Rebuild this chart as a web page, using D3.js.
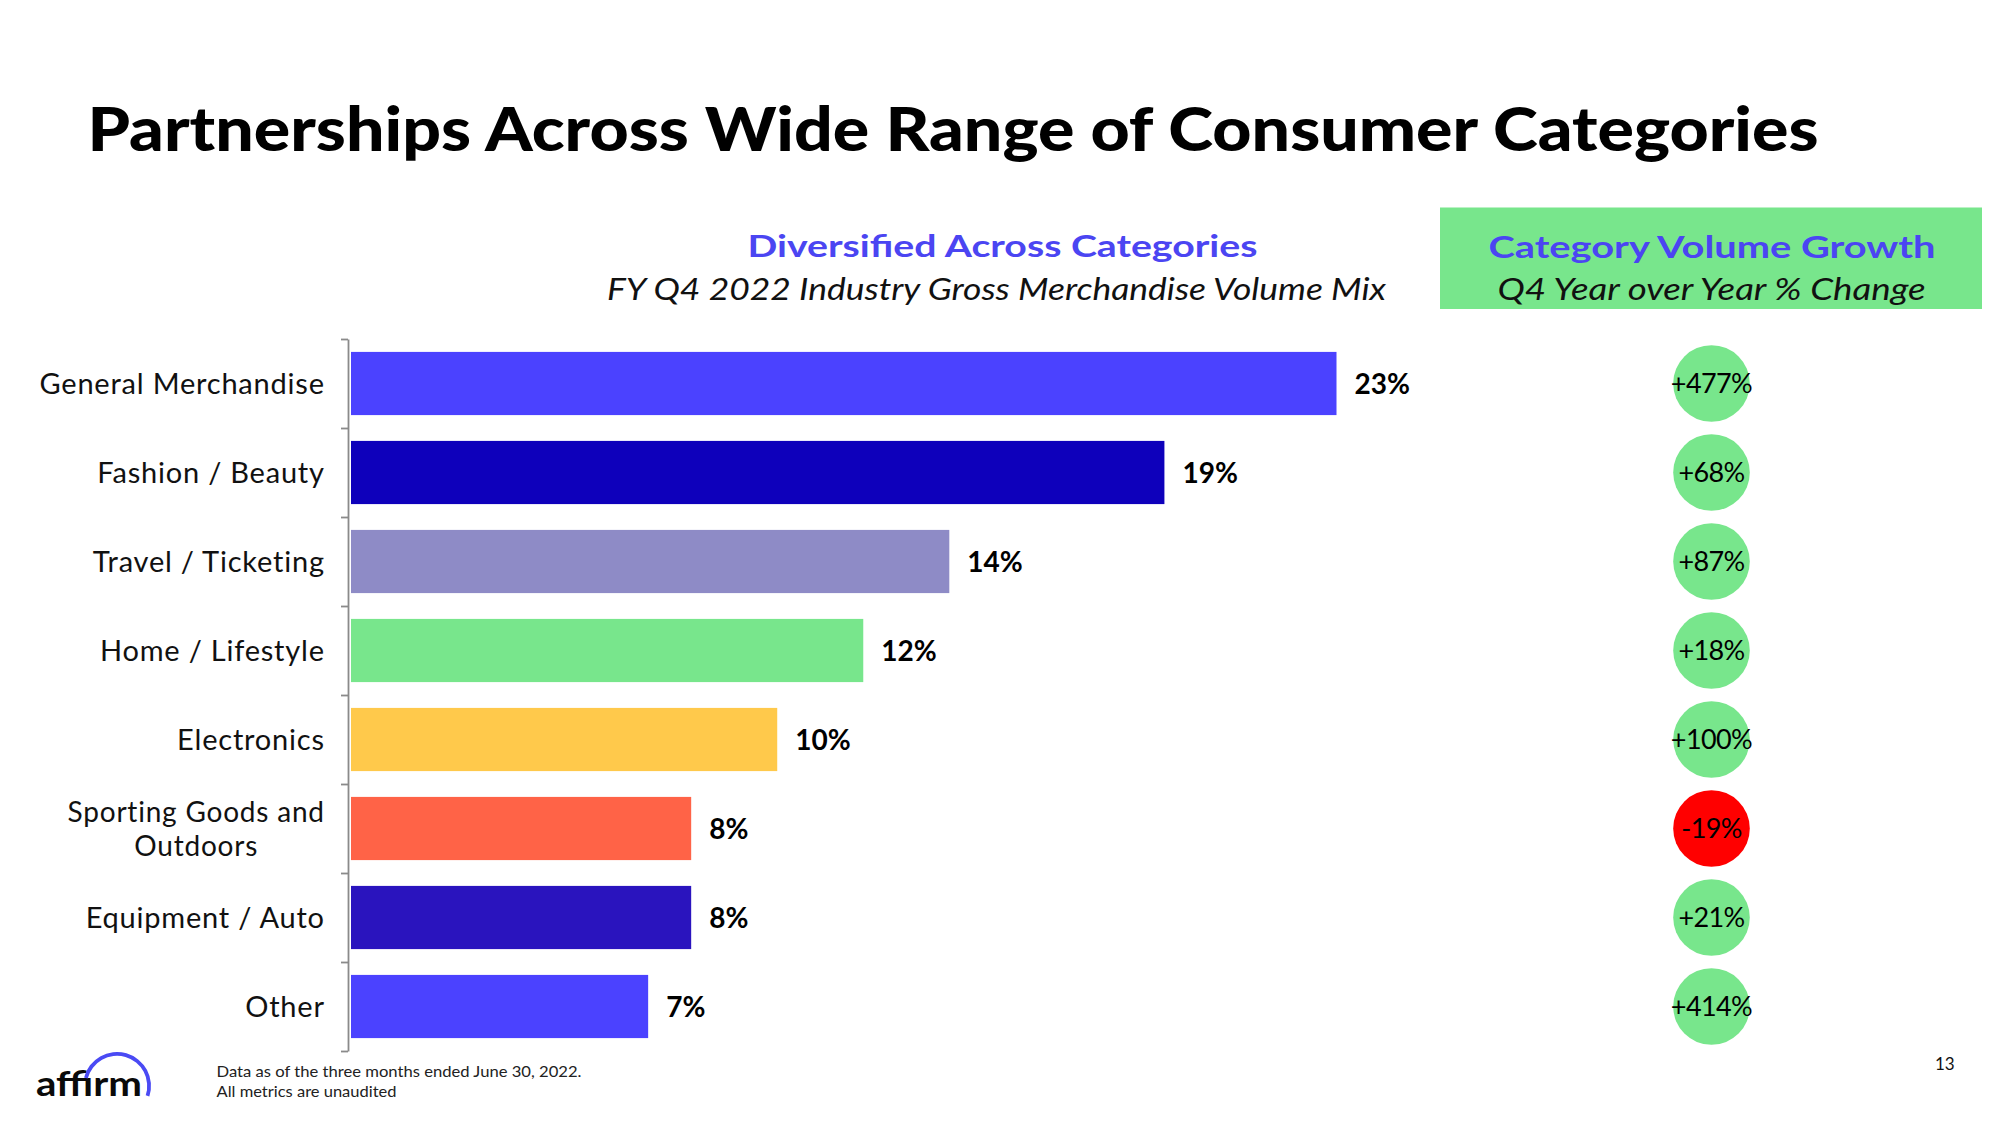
<!DOCTYPE html>
<html>
<head>
<meta charset="utf-8">
<script src="https://cdn.jsdelivr.net/npm/d3@7"></script>
<style>
  html, body { margin: 0; padding: 0; background: #ffffff; }
  svg { display: block; font-family: "Lato", "Noto Sans", sans-serif; }
</style>
</head>
<body>
<svg id="chart" width="2000" height="1125"></svg>
<script>
// ---------------- DATA ----------------
const categories = [
  "General Merchandise",
  "Fashion / Beauty",
  "Travel / Ticketing",
  "Home / Lifestyle",
  "Electronics",
  "Sporting Goods and\nOutdoors",
  "Equipment / Auto",
  "Other"
];
const gmvShare = [23, 19, 14, 12, 10, 8, 8, 7];
const shareLabels = ["23%", "19%", "14%", "12%", "10%", "8%", "8%", "7%"];
const volumeGrowth = [477, 68, 87, 18, 100, -19, 21, 414];
const growthLabels = ["+477%", "+68%", "+87%", "+18%", "+100%", "-19%", "+21%", "+414%"];
const barColors = ["#4B42FF", "#0E00BB", "#8E8BC6", "#78E68C", "#FFC94B", "#FF6347", "#2A14BE", "#4B42FF"];

const titleText = "Partnerships Across Wide Range of Consumer Categories";
const leftHeader = "Diversified Across Categories";
const leftSub = "FY Q4 2022 Industry Gross Merchandise Volume Mix";
const rightHeader = "Category Volume Growth";
const rightSub = "Q4 Year over Year % Change";
const footnotes = ["Data as of the three months ended June 30, 2022.", "All metrics are unaudited"];
const pageNumber = "13";

// ---------------- STYLE ----------------
const headerBlue = "#4B45F2";
const posColor = "#78E68C";
const negColor = "#FF0000";

const svg = d3.select("#chart");
svg.append("rect").attr("width", 2000).attr("height", 1125).attr("fill", "#fff");

// Title
svg.append("text")
  .attr("x", 87.5).attr("y", 150.5)
  .attr("font-size", 61.5).attr("font-weight", 900).attr("fill", "#000")
  .attr("textLength", 1731).attr("lengthAdjust", "spacingAndGlyphs")
  .text(titleText);

// Left headers
svg.append("text")
  .attr("x", 1002.5).attr("y", 257).attr("text-anchor", "middle")
  .attr("font-size", 30.5).attr("font-weight", 700).attr("fill", headerBlue)
  .attr("textLength", 510).attr("lengthAdjust", "spacingAndGlyphs")
  .text(leftHeader);
svg.append("text")
  .attr("x", 996.5).attr("y", 299.5).attr("text-anchor", "middle")
  .attr("font-size", 30.5).attr("font-style", "italic").attr("fill", "#111")
  .attr("textLength", 779).attr("lengthAdjust", "spacingAndGlyphs")
  .text(leftSub);

// Right header box
svg.append("rect")
  .attr("x", 1440).attr("y", 207.5).attr("width", 542).attr("height", 101.5)
  .attr("fill", posColor);
svg.append("text")
  .attr("x", 1712).attr("y", 257.5).attr("text-anchor", "middle")
  .attr("font-size", 30.5).attr("font-weight", 700).attr("fill", headerBlue)
  .attr("textLength", 447).attr("lengthAdjust", "spacingAndGlyphs")
  .text(rightHeader);
svg.append("text")
  .attr("x", 1711.5).attr("y", 299.5).attr("text-anchor", "middle")
  .attr("font-size", 30.5).attr("font-style", "italic").attr("fill", "#111")
  .attr("textLength", 428).attr("lengthAdjust", "spacingAndGlyphs")
  .text(rightSub);

// ---------------- SCALES ----------------
const y = d3.scaleBand()
  .domain(categories)
  .range([339, 1051])
  .paddingInner(0.29)
  .paddingOuter(0.145);

const x = d3.scaleLinear().domain([0, 23]).range([347, 1336.5]);

const yBound = d3.scaleLinear().domain([0, categories.length]).range([339, 1051]);

// Axis with ticks at band boundaries
const axisX = 348;
const axisG = svg.append("g")
  .attr("transform", `translate(${axisX},0)`)
  .call(d3.axisLeft(yBound).tickValues(d3.range(categories.length + 1)).tickSize(7).tickSizeOuter(0).tickFormat(""));
axisG.selectAll("path, line").attr("stroke", "#8a8a8a").attr("stroke-width", 1.8);

// Bars
const barGap = 3;
svg.append("g").selectAll("rect")
  .data(categories)
  .join("rect")
  .attr("x", x(0) + barGap + 1)
  .attr("y", d => y(d))
  .attr("width", (d, i) => x(gmvShare[i]) - x(0) - barGap - 1)
  .attr("height", y.bandwidth())
  .attr("fill", (d, i) => barColors[i]);

// Value labels
svg.append("g").selectAll("text")
  .data(categories)
  .join("text")
  .attr("x", (d, i) => x(gmvShare[i]) + 18)
  .attr("y", d => y(d) + y.bandwidth() / 2 + 10)
  .attr("font-size", 28).attr("font-weight", 700).attr("fill", "#000")
  .text((d, i) => shareLabels[i]);

// Category labels
const labelRight = 324;
const labelSize = 29;
const multiSize = 28;
const lineGap = 34;
const labelG = svg.append("g");
// measure to set common letter-spacing
const probe = labelG.append("text").attr("font-size", labelSize).text(categories[0]);
const w0 = probe.node().getComputedTextLength();
probe.remove();
const n0 = categories[0].length;
const ls = Math.max(-1, Math.min(4, (284.5 - w0) / (n0 - 1)));

categories.forEach((c, i) => {
  const lines = c.split("\n");
  const cy = y(c) + y.bandwidth() / 2;
  const size = lines.length > 1 ? multiSize : labelSize;
  const base = cy + 10.3 - (lines.length - 1) * lineGap / 2;
  const first = labelG.append("text")
    .attr("font-size", size).attr("letter-spacing", ls).attr("fill", "#111")
    .attr("x", labelRight + ls).attr("y", base)
    .attr("text-anchor", "end")
    .text(lines[0]);
  if (lines.length > 1) {
    const w = first.node().getComputedTextLength();
    const mid = labelRight - (w - ls) / 2;
    lines.slice(1).forEach((ln, k) => {
      labelG.append("text")
        .attr("font-size", size).attr("letter-spacing", ls).attr("fill", "#111")
        .attr("x", mid + ls / 2).attr("y", base + (k + 1) * lineGap)
        .attr("text-anchor", "middle")
        .text(ln);
    });
  }
});

// Growth circles
const circleX = 1711.5;
const circleR = 38.3;
const cg = svg.append("g");
cg.selectAll("circle")
  .data(categories)
  .join("circle")
  .attr("cx", circleX)
  .attr("cy", d => y(d) + y.bandwidth() / 2)
  .attr("r", circleR)
  .attr("fill", (d, i) => volumeGrowth[i] < 0 ? negColor : posColor);
cg.selectAll("text")
  .data(categories)
  .join("text")
  .attr("x", circleX)
  .attr("y", d => y(d) + y.bandwidth() / 2 + 9.5)
  .attr("text-anchor", "middle")
  .attr("font-size", 27).attr("letter-spacing", -0.6).attr("fill", "#000")
  .text((d, i) => growthLabels[i]);

// Footnotes
svg.append("text")
  .attr("x", 216.5).attr("y", 1077).attr("font-size", 15).attr("fill", "#222")
  .attr("textLength", 365).attr("lengthAdjust", "spacingAndGlyphs")
  .text(footnotes[0]);
svg.append("text")
  .attr("x", 216.5).attr("y", 1097).attr("font-size", 15).attr("fill", "#222")
  .attr("textLength", 180).attr("lengthAdjust", "spacingAndGlyphs")
  .text(footnotes[1]);

// Page number
svg.append("text")
  .attr("x", 1935).attr("y", 1070).attr("font-size", 17).attr("fill", "#111")
  .text(pageNumber);

// Logo
const logo = svg.append("g");
logo.append("text")
  .attr("x", 36).attr("y", 1095.5)
  .attr("font-size", 35).attr("font-weight", 700).attr("fill", "#0a0a0a")
  .attr("textLength", 106).attr("lengthAdjust", "spacingAndGlyphs")
  .text("affirm");
const arc = d3.arc()
  .innerRadius(30.2).outerRadius(34)
  .startAngle(-Math.PI * 0.42).endAngle(Math.PI * 0.60);
logo.append("path")
  .attr("transform", "translate(117,1086)")
  .attr("d", arc())
  .attr("fill", "#4A4AF4");
</script>
</body>
</html>
